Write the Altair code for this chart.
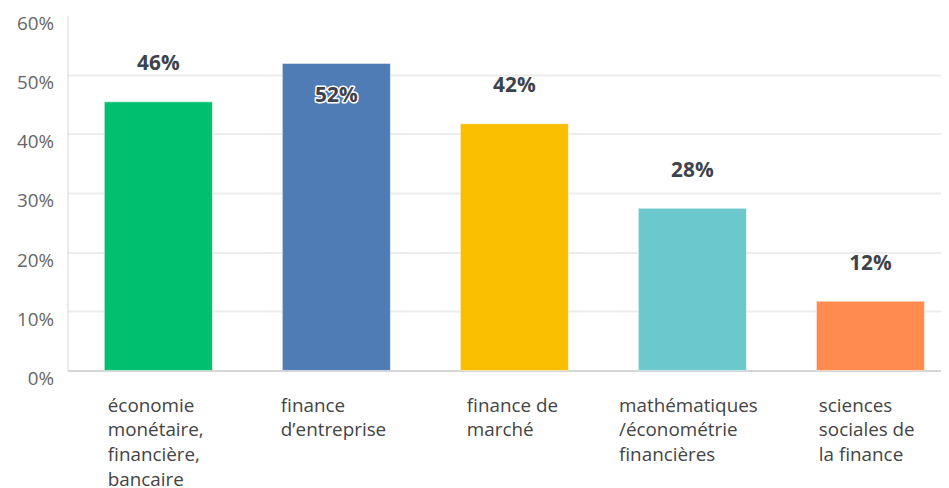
import altair as alt
import pandas as pd

categories = [
    "économie\nmonétaire,\nfinancière,\nbancaire",
    "finance\nd’entreprise",
    "finance de\nmarché",
    "mathématiques\n/économétrie\nfinancières",
    "sciences\nsociales de\nla finance",
]
values = [45.4, 51.9, 41.7, 27.4, 11.7]
value_labels = ["46%", "52%", "42%", "28%", "12%"]
colors = ["#00BF6F", "#507CB6", "#F9BE00", "#6BC8CD", "#FF8B4F"]
y_ticks = [0, 10, 20, 30, 40, 50, 60]

# style: shift of each wrapped label block so that the block is centred on its bar
label_shift = [-51, -56, -48, -74, -52]

df = pd.DataFrame({"cat": categories, "value": values, "label": value_labels})

FONT = "Open Sans"


def esc(s):
    return s.replace("\\", "\\\\").replace("\n", "\\n").replace("'", "\\'")


offset_cond = {
    "condition": [
        {"test": "datum.value === '" + esc(c) + "'", "value": s}
        for c, s in zip(categories, label_shift)
    ],
    "value": 0,
}

x_enc = alt.X(
    "cat:N",
    sort=categories,
    scale=alt.Scale(paddingInner=0.393, paddingOuter=0.15, align=0.69),
    axis=alt.Axis(
        title=None,
        labelExpr="split(datum.label, '\\n')",
        labelAlign="left",
        labelBaseline="top",
        labelPadding=26,
        labelLineHeight=25,
        labelFont=FONT,
        labelFontSize=19,
        labelColor="#444444",
        labelAngle=0,
        labelOffset=offset_cond,
        labelBound=False,
        labelOverlap=False,
        labelLimit=0,
        ticks=False,
        domainColor="#d6d6d6",
        domainWidth=2,
        grid=False,
    ),
)

y_enc = alt.Y(
    "value:Q",
    scale=alt.Scale(domain=[0, 60], nice=False),
    axis=alt.Axis(
        title=None,
        values=y_ticks,
        labelExpr="datum.value + '%'",
        labelFont=FONT,
        labelFontSize=19,
        labelColor="#666666",
        labelPadding=14,
        labelOffset=8,
        ticks=False,
        domainColor="#d6d6d6",
        domainWidth=1,
        gridColor={"condition": {"test": "datum.value >= 60", "value": "transparent"}, "value": "#ececec"},
        gridWidth=2,
    ),
)

base = alt.Chart(df)

bars = base.mark_bar(stroke="white", strokeWidth=1, strokeOpacity=0.5).encode(
    x=x_enc,
    y=y_enc,
    color=alt.Color("cat:N", sort=categories, scale=alt.Scale(domain=categories, range=colors), legend=None),
)

above = base.transform_filter("datum.value < 50").mark_text(
    font=FONT, fontSize=21, fontWeight="bold", color="#3d434b", dy=-38, baseline="middle"
).encode(x=x_enc, y=y_enc, text="label:N")

inside_halo = base.transform_filter("datum.value >= 50").mark_text(
    font=FONT, fontSize=21, fontWeight="bold", color="#3d434b", stroke="white",
    strokeWidth=3, strokeJoin="round", dy=33, baseline="middle"
).encode(x=x_enc, y=y_enc, text="label:N")

inside = base.transform_filter("datum.value >= 50").mark_text(
    font=FONT, fontSize=21, fontWeight="bold", color="#3d434b", dy=33, baseline="middle"
).encode(x=x_enc, y=y_enc, text="label:N")

chart = (
    alt.layer(bars, above, inside_halo, inside)
    .properties(
        width=881,
        height=358,
        autosize=alt.AutoSizeParams(type="none"),
        padding={"left": 60, "top": 5.5, "right": 0, "bottom": 116.5},
    )
    .configure_view(stroke=None)
)

chart.save("out.html", embed_options={"renderer": "svg", "actions": False})
